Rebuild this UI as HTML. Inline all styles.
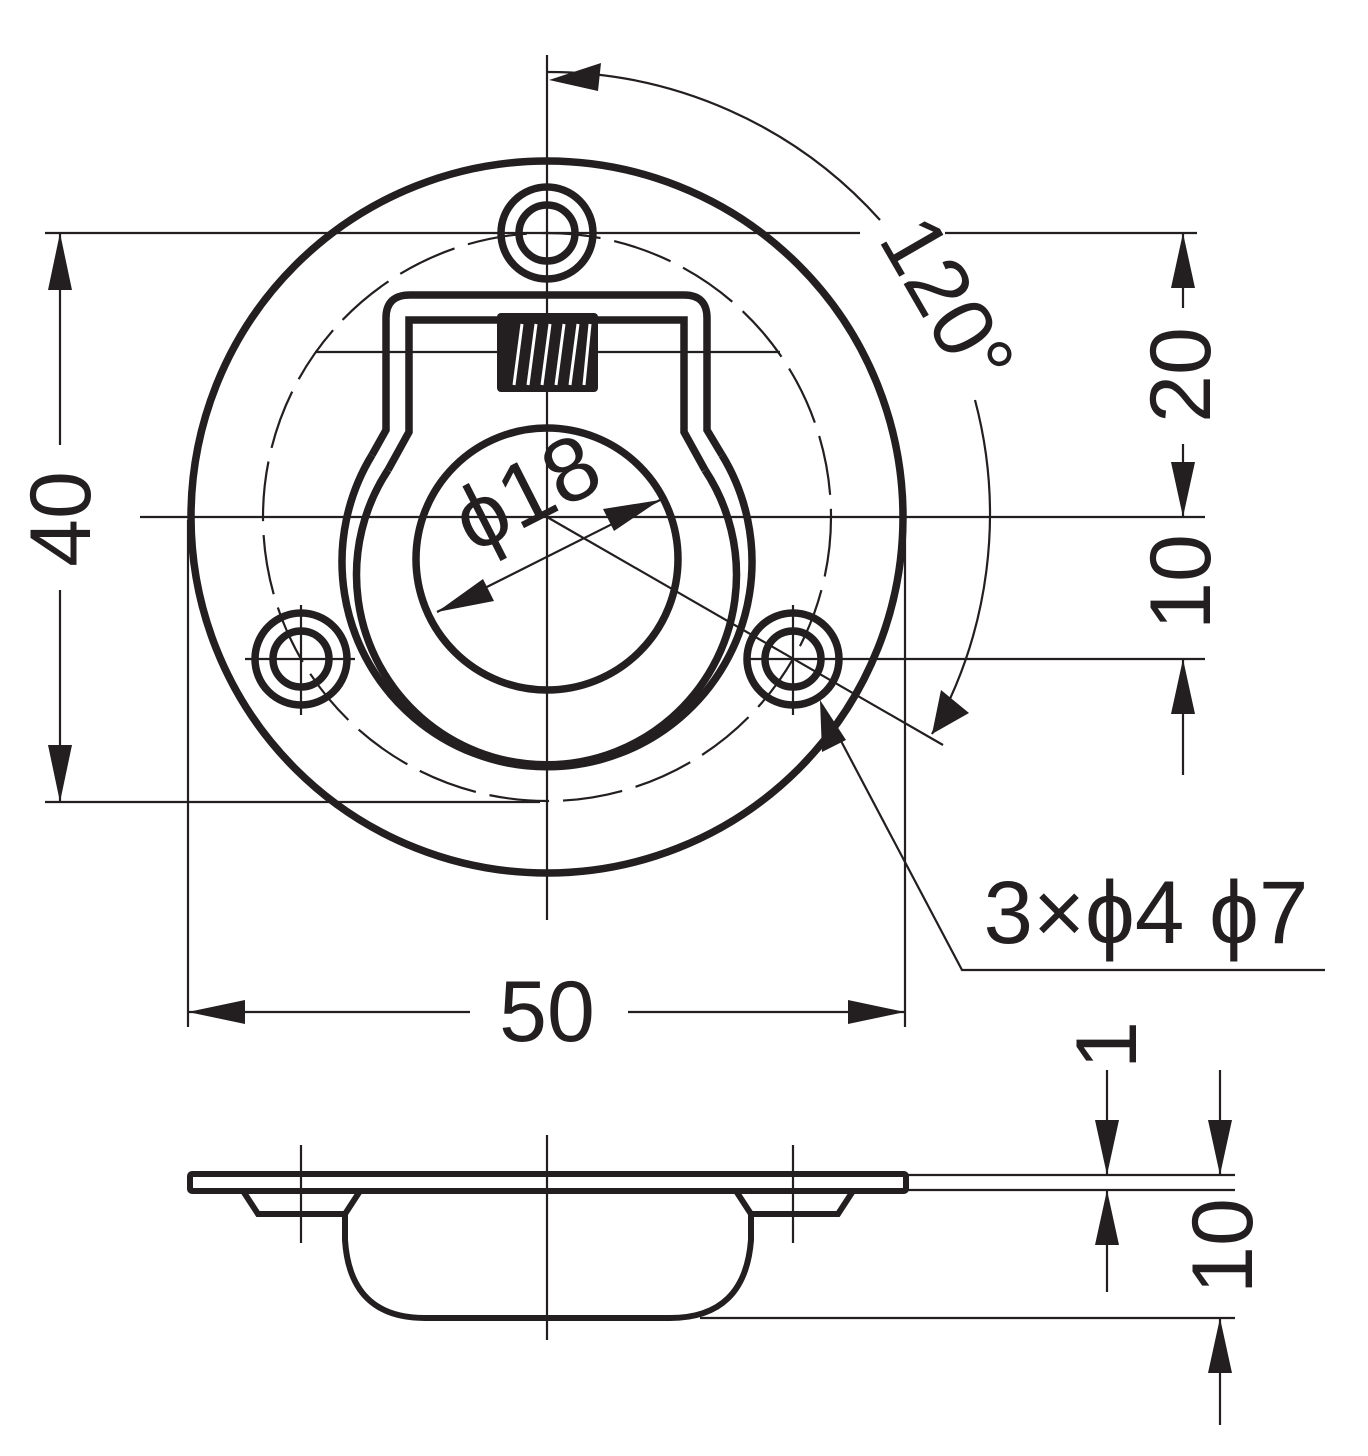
<!DOCTYPE html>
<html><head><meta charset="utf-8"><style>html,body{margin:0;padding:0;background:#fff}svg{display:block}text{font-family:"Liberation Sans",sans-serif;fill:#231f20}</style></head>
<body>
<svg width="1368" height="1456" viewBox="0 0 1368 1456" xmlns="http://www.w3.org/2000/svg">
<g stroke="#231f20" fill="none">
<g stroke-width="2.2">
<line x1="547" y1="55" x2="547" y2="920"/>
<line x1="140" y1="517" x2="1205" y2="517"/>
<line x1="45" y1="233" x2="860" y2="233"/>
<line x1="945" y1="233" x2="1197" y2="233"/>
<line x1="245" y1="659" x2="355" y2="659"/>
<line x1="745" y1="659" x2="1205" y2="659"/>
<line x1="45" y1="802" x2="540" y2="802"/>
<line x1="188" y1="520" x2="188" y2="1027"/>
<line x1="905" y1="520" x2="905" y2="1027"/>
<line x1="315" y1="352" x2="780" y2="352"/>
<line x1="301" y1="605" x2="301" y2="715"/>
<line x1="793" y1="605" x2="793" y2="715"/>
<circle cx="547" cy="517" r="284" stroke-dasharray="60 14"/>
<line x1="60" y1="233" x2="60" y2="445"/>
<line x1="60" y1="590" x2="60" y2="802"/>
<line x1="188" y1="1012" x2="470" y2="1012"/>
<line x1="628" y1="1012" x2="905" y2="1012"/>
<line x1="1183" y1="233" x2="1183" y2="308"/>
<line x1="1183" y1="444" x2="1183" y2="517"/>
<line x1="1183" y1="659" x2="1183" y2="775"/>
<path d="M547 72 A445 445 0 0 1 880 220"/>
<path d="M975 400 A445 445 0 0 1 932 734"/>
<line x1="547" y1="517" x2="943" y2="745"/>
<line x1="437" y1="612" x2="660" y2="500"/>
<polyline points="822,705 962,970 1325,970"/>
<line x1="547" y1="1135" x2="547" y2="1340"/>
<line x1="301" y1="1145" x2="301" y2="1243"/>
<line x1="793" y1="1145" x2="793" y2="1243"/>
<line x1="908" y1="1175" x2="1235" y2="1175"/>
<line x1="908" y1="1190" x2="1235" y2="1190"/>
<line x1="700" y1="1318" x2="1235" y2="1318"/>
<line x1="1107" y1="1070" x2="1107" y2="1175"/>
<line x1="1107" y1="1190" x2="1107" y2="1292"/>
<line x1="1220" y1="1070" x2="1220" y2="1175"/>
<line x1="1220" y1="1318" x2="1220" y2="1425"/>
</g>
<g stroke-width="7.5">
<circle cx="547" cy="517" r="356"/>
<circle cx="547" cy="233" r="46"/>
<circle cx="547" cy="233" r="28"/>
<circle cx="301" cy="659" r="46"/>
<circle cx="301" cy="659" r="28"/>
<circle cx="793" cy="659" r="46"/>
<circle cx="793" cy="659" r="28"/>
<circle cx="547" cy="559" r="131"/>
<path d="M372 455 L386 430 L386 318 Q386 295 410 295 L684 295 Q707 295 707 318 L707 430 L722 455"/>
<path d="M372 455 A205 205 0 1 0 722 455"/>
<path d="M388 470 L409 432 L409 320 L684 320 L684 432 L705 470"/>
<path d="M388 470 A190 190 0 1 0 705 470"/>
</g>
<rect x="497" y="313" width="101" height="79" rx="4" fill="#231f20" stroke="none"/>
<g stroke="#fff" stroke-width="3">
<line x1="514" y1="385" x2="522" y2="324"/>
<line x1="528" y1="385" x2="536" y2="324"/>
<line x1="542" y1="385" x2="550" y2="324"/>
<line x1="556" y1="385" x2="564" y2="324"/>
<line x1="570" y1="385" x2="578" y2="324"/>
<line x1="584" y1="385" x2="590" y2="324"/>
</g>
<g stroke-width="6">
<rect x="190" y="1174" width="716" height="17" rx="2"/>
<path d="M243 1191 L258 1214 L345 1214 L360 1191"/>
<path d="M853 1191 L838 1214 L751 1214 L736 1191"/>
<path d="M345 1214 L345 1240 Q350 1318 425 1318 L670 1318 Q745 1318 751 1240 L751 1214"/>
</g>
</g>
<g fill="#231f20">
<polygon points="549,80 601,63 598,91"/>
<polygon points="932,734 941,690 969,713"/>
<polygon points="60,233 48,290 72,290"/>
<polygon points="60,802 48,745 72,745"/>
<polygon points="188,1012 245,1000 245,1024"/>
<polygon points="905,1012 848,1000 848,1024"/>
<polygon points="1183,233 1171,288 1195,288"/>
<polygon points="1183,517 1171,462 1195,462"/>
<polygon points="1183,659 1171,714 1195,714"/>
<polygon points="437,612 483,579 494,601"/>
<polygon points="660,500 603,509 614,531"/>
<polygon points="820,700 822,752 846,740"/>
<polygon points="1107,1175 1095,1120 1119,1120"/>
<polygon points="1107,1190 1095,1245 1119,1245"/>
<polygon points="1220,1175 1208,1120 1232,1120"/>
<polygon points="1220,1318 1208,1373 1232,1373"/>
</g>
<g font-size="86">
<text x="0" y="0" text-anchor="middle" transform="translate(90,519) rotate(-90)">40</text>
<text x="547" y="1041" text-anchor="middle">50</text>
<text x="0" y="0" text-anchor="middle" transform="translate(1210,375) rotate(-90)">20</text>
<text x="0" y="0" text-anchor="middle" transform="translate(1210,582) rotate(-90)">10</text>
<text x="0" y="0" text-anchor="middle" transform="translate(1252,1246) rotate(-90)">10</text>
<text x="0" y="0" text-anchor="middle" transform="translate(1136,1045) rotate(-90)">1</text>
<text x="0" y="0" text-anchor="middle" transform="translate(922,316) rotate(60)">120°</text>
<text x="0" y="0" text-anchor="middle" transform="translate(540,520) rotate(-27)" font-size="90">ϕ18</text>
<text x="1146" y="943" text-anchor="middle" font-size="89">3×ϕ4 ϕ7</text>
</g>
</svg>
</body></html>
